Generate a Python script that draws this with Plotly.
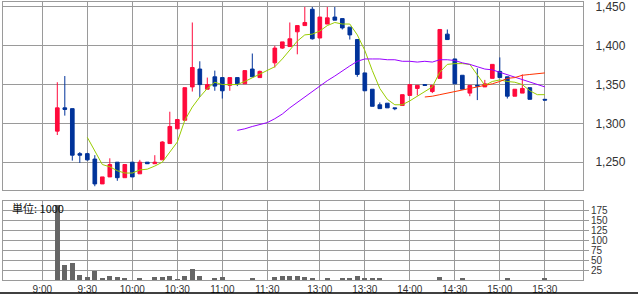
import plotly.graph_objects as go

# ---- data (bar index: 5-minute slots, 0 = 9:00) ----
idx = [2, 3, 4, 5, 6, 7, 8, 9, 10, 11, 12, 13, 14, 15, 16, 17, 18, 19, 20, 21, 22, 23, 24, 25, 26, 27, 28, 29,
       31, 32, 33, 34, 35, 36, 37, 38, 39, 40, 41, 42, 43, 44, 45, 46, 47, 48, 49, 50, 51, 52, 53, 54, 55, 56,
       57, 58, 59, 60, 61, 62, 63, 64, 65, 67]
opens = [1290, 1320, 1319, 1261, 1261, 1254, 1222, 1231, 1250, 1230, 1250, 1235, 1250, 1248, 1253, 1274, 1293,
         1304, 1347, 1370, 1344, 1360, 1359, 1349, 1359, 1351, 1370, 1359,
         1378, 1397, 1399, 1418, 1426, 1447, 1410, 1428, 1437, 1435, 1424, 1408, 1365, 1344, 1324, 1326, 1320,
         1323, 1336, 1345, 1350, 1341, 1358, 1415, 1383, 1362, 1339, 1349, 1347, 1358, 1367, 1360, 1335, 1339,
         1346, 1331]
highs = [1353, 1361, 1319, 1263, 1262, 1259, 1231, 1255, 1250, 1247, 1250, 1253, 1250, 1259, 1277, 1315, 1305,
         1346, 1430, 1380, 1359, 1368, 1359, 1359, 1359, 1368, 1390, 1368,
         1400, 1405, 1430, 1426, 1450, 1450, 1437, 1450, 1450, 1435, 1424, 1408, 1365, 1344, 1327, 1326, 1320,
         1337, 1350, 1349, 1350, 1349, 1421, 1421, 1383, 1362, 1349, 1371, 1356, 1376, 1385, 1360, 1344, 1363,
         1346, 1331]
lows = [1285, 1310, 1252, 1249, 1252, 1219, 1222, 1231, 1226, 1230, 1231, 1235, 1248, 1248, 1253, 1274, 1293,
        1304, 1341, 1334, 1344, 1342, 1332, 1342, 1348, 1351, 1360, 1359,
        1372, 1396, 1399, 1389, 1426, 1408, 1410, 1428, 1433, 1421, 1408, 1360, 1342, 1322, 1319, 1320, 1317,
        1323, 1336, 1336, 1349, 1339, 1358, 1408, 1351, 1344, 1335, 1330, 1347, 1358, 1359, 1332, 1335, 1339,
        1331, 1330]
closes = [1320, 1318, 1259, 1259, 1253, 1222, 1231, 1247, 1230, 1247, 1231, 1250, 1248, 1250, 1276, 1296, 1305,
          1346, 1372, 1350, 1350, 1348, 1342, 1359, 1351, 1368, 1360, 1367,
          1397, 1405, 1409, 1426, 1430, 1409, 1437, 1436, 1433, 1423, 1414, 1363, 1342, 1322, 1319, 1320, 1319,
          1337, 1350, 1349, 1349, 1349, 1421, 1408, 1351, 1344, 1349, 1348, 1351, 1376, 1359, 1335, 1344, 1345,
          1331, 1330]
volume = [190, 38, 43, 13, 8, 23, 6, 11, 8, 6, 1, 6, 1, 8, 8, 11, 2, 11, 28, 11, 1, 6, 8, 1, 1, 1, 6, 1,
          8, 11, 11, 11, 8, 6, 1, 6, 1, 6, 6, 11, 6, 6, 6, 1, 1, 1, 1, 1, 1, 1, 8, 1, 1, 5,
          1, 1, 1, 1, 1, 5, 1, 1, 1, 5]

ma_green_x = [6, 7, 8, 9, 10, 11, 12, 13, 14, 15, 16, 17, 18, 19, 20, 21, 22, 23, 24, 25, 26, 27, 28, 29,
              31, 32, 33, 34, 35, 36, 37, 38, 39, 40, 41, 42, 43, 44, 45, 46, 47, 48, 49, 50, 51, 52, 53, 54,
              55, 56, 57, 58, 59, 60, 61, 62, 63, 64, 65, 66, 67]
ma_green = [1282, 1265, 1247, 1244, 1239, 1236, 1236, 1240, 1241, 1245, 1250, 1263, 1276, 1304, 1321, 1334,
            1345, 1353, 1350, 1350, 1350, 1354, 1359, 1363,
            1373, 1383, 1395, 1406, 1414, 1415, 1419, 1426, 1430, 1428, 1428, 1414, 1394, 1368, 1345, 1331,
            1324, 1324, 1329, 1335, 1340, 1347, 1366, 1376, 1377, 1377, 1376, 1362, 1349, 1354, 1356, 1354,
            1353, 1350, 1342, 1337, 1337]
ma_purple_x = list(range(26, 68))
ma_purple = [1291, 1293, 1296, 1299, 1301, 1306, 1312, 1320, 1327, 1334, 1341, 1349, 1355, 1361, 1368, 1374,
             1380, 1383, 1383, 1383, 1382, 1382, 1380, 1380, 1379, 1380, 1379, 1382, 1382, 1381, 1378, 1376,
             1373, 1370, 1369, 1366, 1363, 1360, 1356, 1353, 1350, 1347]
ma_red_x = list(range(51, 68))
ma_red = [1334, 1335, 1337, 1339, 1341, 1343, 1345, 1347, 1349, 1351, 1354, 1358, 1359, 1362, 1363, 1364, 1365]

tick_pos = [0, 6, 12, 18, 24, 30, 37, 43, 49, 55, 61, 67]
tick_labels = ["9:00", "9:30", "10:00", "10:30", "11:00", "11:30", "13:00", "13:30", "14:00", "14:30",
               "15:00", "15:30"]
price_ticks = [1250, 1300, 1350, 1400, 1450]
vol_ticks = [25, 50, 75, 100, 125, 150, 175]

RED = "#ff0a3c"
BLUE = "#00339a"
GRID = "#9a9a9a"
FONT = "Liberation Sans, Arial, sans-serif"

fig = go.Figure()
fig.add_trace(go.Candlestick(
    x=idx, open=opens, high=highs, low=lows, close=closes,
    increasing=dict(line=dict(color=RED, width=1), fillcolor=RED),
    decreasing=dict(line=dict(color=BLUE, width=1), fillcolor=BLUE),
    whiskerwidth=0, xaxis="x", yaxis="y", showlegend=False, hoverinfo="skip"))
fig.add_trace(go.Scatter(x=ma_green_x, y=ma_green, mode="lines", line=dict(color="#99cc00", width=1),
                         xaxis="x", yaxis="y", showlegend=False, hoverinfo="skip"))
fig.add_trace(go.Scatter(x=ma_purple_x, y=ma_purple, mode="lines", line=dict(color="#9900ff", width=1),
                         xaxis="x", yaxis="y", showlegend=False, hoverinfo="skip"))
fig.add_trace(go.Scatter(x=ma_red_x, y=ma_red, mode="lines", line=dict(color="#ff3300", width=1),
                         xaxis="x", yaxis="y", showlegend=False, hoverinfo="skip"))
fig.add_trace(go.Bar(x=idx, y=volume, width=0.65, marker=dict(color="#666666", line=dict(width=0)),
                     xaxis="x2", yaxis="y2", showlegend=False, hoverinfo="skip"))

xr = [-5.24, 72.09]
common_x = dict(range=xr, tickvals=tick_pos, ticktext=tick_labels, showgrid=True, gridcolor=GRID,
                gridwidth=1, showline=True, linecolor=GRID, linewidth=1, mirror=True, zeroline=False,
                ticks="", fixedrange=True)

fig.update_layout(
    width=638, height=296,
    margin=dict(l=3, r=55, t=1, b=15),
    paper_bgcolor="white", plot_bgcolor="white",
    font=dict(family=FONT, color="#333333"),
    xaxis=dict(**common_x, anchor="y", showticklabels=False, rangeslider=dict(visible=False)),
    yaxis=dict(domain=[0.325, 1], range=[1214.6, 1456.4], side="right", tickvals=price_ticks,
               tickformat=",", showgrid=True, gridcolor=GRID, showline=True, linecolor=GRID,
               mirror=True, zeroline=False, ticks="outside", ticklen=9, tickcolor="rgba(0,0,0,0)",
               tickfont=dict(size=12, color="#333333")),
    xaxis2=dict(**common_x, anchor="y2", showticklabels=True, tickfont=dict(size=10, color="#333333")),
    yaxis2=dict(domain=[0, 0.2857], range=[0, 200], side="right", tickvals=vol_ticks, showgrid=True,
                gridcolor=GRID, showline=True, linecolor=GRID, mirror=True, zeroline=False,
                ticks="outside", ticklen=5, tickcolor=GRID, tickfont=dict(size=10, color="#333333")),
    bargap=0,
    annotations=[dict(text="単位: 1000", xref="paper", yref="paper", x=7 / 580, y=0.2596,
                      xanchor="left", yanchor="middle", showarrow=False,
                      font=dict(family="Noto Sans CJK JP", size=11, color="#111111"))],
    shapes=[dict(type="line", xref="paper", yref="paper", x0=-3 / 580, x1=635 / 580,
                 y0=-0.0464, y1=-0.0464, line=dict(color="black", width=1.5))],
)

fig.write_html("out.html")
